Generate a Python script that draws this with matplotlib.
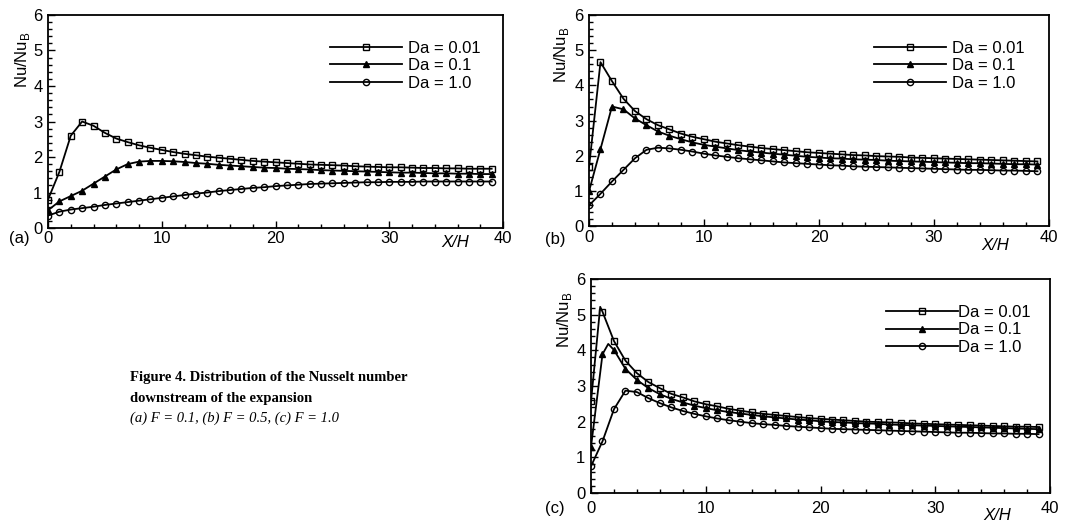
import numpy as np
import matplotlib.pyplot as plt
from matplotlib.ticker import MultipleLocator

plt.rcParams['font.family'] = ['Liberation Sans', 'DejaVu Sans']

# Nu/Nu_B along the channel, one marker per unit of X/H
xh = np.arange(40)

# (a) F = 0.1
a_da001 = [0.80, 1.58, 2.60, 3.00, 2.88, 2.68, 2.52, 2.42, 2.33, 2.26,
           2.20, 2.14, 2.09, 2.05, 2.01, 1.98, 1.95, 1.92, 1.89, 1.87,
           1.85, 1.83, 1.81, 1.79, 1.78, 1.77, 1.76, 1.74, 1.73, 1.72,
           1.71, 1.71, 1.70, 1.69, 1.69, 1.68, 1.68, 1.67, 1.67, 1.67]
a_da01 = [0.50, 0.75, 0.90, 1.05, 1.25, 1.45, 1.65, 1.80, 1.87, 1.89,
          1.89, 1.88, 1.86, 1.83, 1.81, 1.78, 1.76, 1.74, 1.72, 1.70,
          1.69, 1.67, 1.66, 1.65, 1.63, 1.62, 1.61, 1.60, 1.59, 1.58,
          1.57, 1.56, 1.56, 1.55, 1.54, 1.54, 1.53, 1.53, 1.52, 1.52]
a_da1 = [0.35, 0.46, 0.52, 0.56, 0.60, 0.65, 0.69, 0.73, 0.77, 0.81,
         0.85, 0.89, 0.93, 0.97, 1.00, 1.04, 1.07, 1.10, 1.13, 1.15,
         1.18, 1.20, 1.22, 1.24, 1.25, 1.26, 1.27, 1.28, 1.29, 1.29,
         1.30, 1.30, 1.30, 1.31, 1.31, 1.31, 1.31, 1.31, 1.31, 1.31]

# (b) F = 0.5
b_da001 = [1.67, 4.66, 4.12, 3.62, 3.27, 3.04, 2.87, 2.75, 2.63, 2.54,
           2.47, 2.40, 2.35, 2.30, 2.26, 2.22, 2.19, 2.16, 2.13, 2.10,
           2.08, 2.06, 2.04, 2.02, 2.01, 1.99, 1.98, 1.97, 1.95, 1.94,
           1.93, 1.92, 1.91, 1.90, 1.89, 1.88, 1.87, 1.86, 1.85, 1.84]
b_da01 = [0.99, 2.19, 3.40, 3.32, 3.06, 2.87, 2.69, 2.57, 2.47, 2.38,
          2.31, 2.26, 2.21, 2.16, 2.12, 2.09, 2.06, 2.03, 2.00, 1.97,
          1.95, 1.93, 1.92, 1.90, 1.89, 1.88, 1.86, 1.85, 1.84, 1.83,
          1.82, 1.81, 1.80, 1.79, 1.79, 1.78, 1.77, 1.76, 1.76, 1.75]
b_da1 = [0.59, 0.92, 1.27, 1.60, 1.93, 2.17, 2.23, 2.21, 2.17, 2.12,
         2.06, 2.01, 1.97, 1.93, 1.90, 1.87, 1.84, 1.81, 1.79, 1.77,
         1.75, 1.73, 1.72, 1.70, 1.69, 1.68, 1.67, 1.66, 1.65, 1.64,
         1.63, 1.62, 1.61, 1.60, 1.60, 1.59, 1.58, 1.58, 1.57, 1.56]

# (c) F = 1.0, with the sharp peaks resolved between markers
c_x001 = np.r_[0, 0.8, np.arange(1, 40)]
c_da001 = [2.57, 5.22, 5.08, 4.26, 3.71, 3.36, 3.11, 2.94, 2.78, 2.68,
           2.57, 2.49, 2.43, 2.36, 2.31, 2.26, 2.22, 2.19, 2.16, 2.13,
           2.10, 2.08, 2.06, 2.04, 2.02, 2.00, 1.99, 1.98, 1.97, 1.95,
           1.94, 1.93, 1.92, 1.91, 1.90, 1.89, 1.88, 1.87, 1.86, 1.86, 1.85]
c_x01 = np.r_[0, 1, 1.5, np.arange(2, 40)]
c_da01 = [1.30, 3.89, 4.18, 4.01, 3.48, 3.17, 2.94, 2.77, 2.64, 2.54,
          2.45, 2.38, 2.32, 2.27, 2.23, 2.19, 2.15, 2.12, 2.09, 2.06,
          2.04, 2.01, 1.99, 1.98, 1.96, 1.95, 1.94, 1.92, 1.91, 1.90,
          1.89, 1.88, 1.87, 1.86, 1.85, 1.84, 1.83, 1.82, 1.81, 1.80, 1.79]
c_da1 = [0.75, 1.45, 2.35, 2.87, 2.83, 2.66, 2.52, 2.40, 2.30, 2.22,
         2.15, 2.09, 2.04, 2.00, 1.96, 1.93, 1.91, 1.88, 1.86, 1.84,
         1.82, 1.80, 1.79, 1.78, 1.77, 1.76, 1.75, 1.74, 1.73, 1.72,
         1.71, 1.70, 1.69, 1.69, 1.68, 1.67, 1.67, 1.66, 1.66, 1.65]

labels = ["Da = 0.01", "Da = 0.1", "Da = 1.0"]
markers = ["s", "^", "o"]
faces = ["none", "black", "none"]

# tag, axes rect, series, x tick pad, spots for tag / X/H / y label, legend anchor, legend gap
panels = [
    ("(a)", [0.0447, 0.5665, 0.4237, 0.4050],
     [(xh, a_da001), (xh, a_da01), (xh, a_da1)],
     2.0, (-0.064, -0.047), (0.895, -0.068), (-0.057, 0.79), (0.966, 0.91), 0.4),
    ("(b)", [0.5484, 0.5700, 0.4283, 0.4015],
     [(xh, b_da001), (xh, b_da01), (xh, b_da1)],
     3.0, (-0.074, -0.062), (0.883, -0.090), (-0.059, 0.81), (0.962, 0.91), 0.4),
    ("(c)", [0.5503, 0.0627, 0.4274, 0.4069],
     [(c_x001, c_da001), (c_x01, c_da01), (xh, c_da1)],
     6.0, (-0.078, -0.070), (0.885, -0.104), (-0.057, 0.81), (0.973, 0.91), 0.05),
]

fig = plt.figure(figsize=(10.74, 5.26), dpi=100)

for tag, pos, series, xpad, tag_xy, xh_xy, yl_xy, anchor, gap in panels:
    ax = fig.add_axes(pos)
    for (x, y), lab, m, fc in zip(series, labels, markers, faces):
        x = np.asarray(x)
        on_int = np.isclose(x, np.round(x))
        ax.plot(x, y, color="black", lw=1.3, marker=m, ms=4.5,
                mfc=fc, mec="black", mew=1.0,
                markevery=list(on_int), label=lab)
    ax.set_xlim(0, 40)
    ax.set_ylim(0, 6)
    ax.xaxis.set_major_locator(MultipleLocator(10))
    ax.xaxis.set_minor_locator(MultipleLocator(2))
    ax.yaxis.set_major_locator(MultipleLocator(1))
    ax.yaxis.set_minor_locator(MultipleLocator(0.2))
    ax.tick_params(which="both", direction="in", top=False, right=False,
                   labelsize=12, width=1.0)
    ax.tick_params(which="major", length=5)
    ax.tick_params(which="minor", length=3)
    ax.tick_params(axis="x", pad=xpad)
    ax.tick_params(axis="y", pad=4)
    for s in ax.spines.values():
        s.set_linewidth(1.3)
    ax.text(yl_xy[0], yl_xy[1], "Nu/Nu$_\\mathregular{B}$", transform=ax.transAxes,
            rotation=90, ha="center", va="center", fontsize=12)
    ax.text(xh_xy[0], xh_xy[1], "X/H", transform=ax.transAxes,
            ha="center", va="center", fontsize=12, style="italic")
    ax.text(tag_xy[0], tag_xy[1], tag, transform=ax.transAxes,
            ha="center", va="center", fontsize=12)
    ax.legend(loc="upper right", bbox_to_anchor=anchor, borderaxespad=0,
              frameon=False, fontsize=12, handlelength=4.3,
              handletextpad=gap, labelspacing=0.15, numpoints=1)

fig.text(0.121, 0.283, "Figure 4. Distribution of the Nusselt number",
         fontsize=10.5, fontweight="bold", family="Liberation Serif",
         va="center")
fig.text(0.121, 0.243, "downstream of the expansion",
         fontsize=10.5, fontweight="bold", family="Liberation Serif",
         va="center")
fig.text(0.121, 0.205, "(a) F = 0.1, (b) F = 0.5, (c) F = 1.0",
         fontsize=10.5, style="italic", family="Liberation Serif",
         va="center")

plt.savefig("out.png", dpi=100)
